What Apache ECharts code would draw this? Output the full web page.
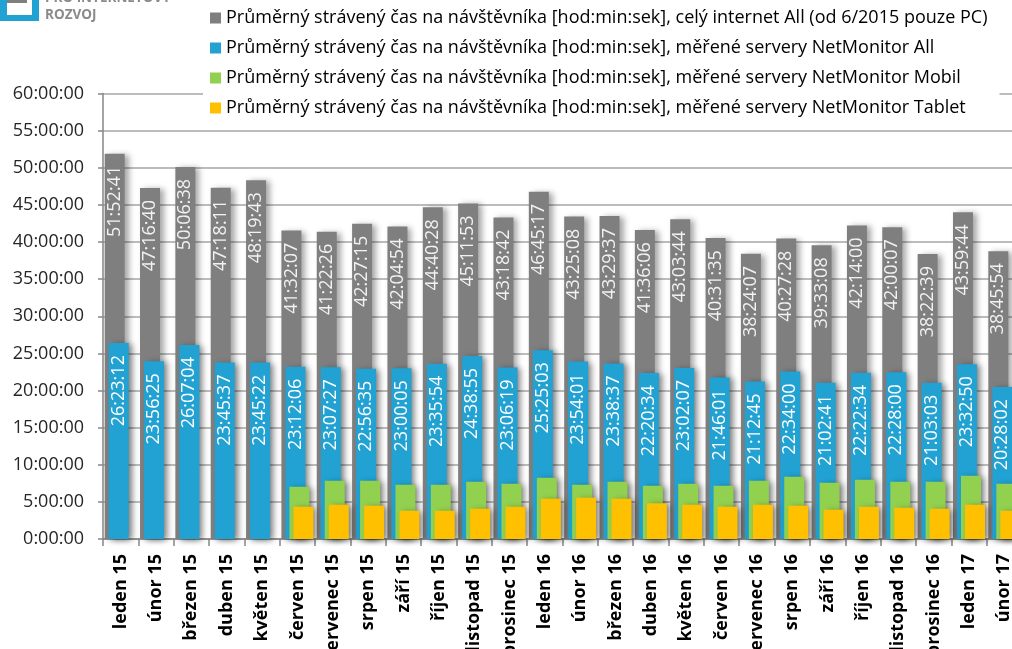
<!DOCTYPE html>
<html>
<head>
<meta charset="utf-8">
<script src="https://cdn.jsdelivr.net/npm/echarts@6/dist/echarts.min.js"></script>
<style>
html,body{margin:0;padding:0;background:#fff;}
#chart{width:1012px;height:649px;}
</style>
</head>
<body>
<div id="chart"></div>
<script>
const categories = ["leden 15","únor 15","březen 15","duben 15","květen 15","červen 15","červenec 15","srpen 15","září 15","říjen 15","listopad 15","prosinec 15","leden 16","únor 16","březen 16","duben 16","květen 16","červen 16","červenec 16","srpen 16","září 16","říjen 16","listopad 16","prosinec 16","leden 17","únor 17"];

const seriesNames = [
  "Průměrný strávený čas na návštěvníka [hod:min:sek], celý internet All (od 6/2015 pouze PC)",
  "Průměrný strávený čas na návštěvníka [hod:min:sek], měřené servery NetMonitor All",
  "Průměrný strávený čas na návštěvníka [hod:min:sek], měřené servery NetMonitor Mobil",
  "Průměrný strávený čas na návštěvníka [hod:min:sek], měřené servery NetMonitor Tablet"
];

// celý internet All (labels shown on chart)
const internetAll = ["51:52:41","47:16:40","50:06:38","47:18:11","48:19:43","41:32:07","41:22:26","42:27:15","42:04:54","44:40:28","45:11:53","43:18:42","46:45:17","43:25:08","43:29:37","41:36:06","43:03:44","40:31:35","38:24:07","40:27:28","39:33:08","42:14:00","42:00:07","38:22:39","43:59:44","38:45:54"];

// NetMonitor All (labels shown on chart)
const netMonitorAll = ["26:23:12","23:56:25","26:07:04","23:45:37","23:45:22","23:12:06","23:07:27","22:56:35","23:00:05","23:35:54","24:38:55","23:06:19","25:25:03","23:54:01","23:38:37","22:20:34","23:02:07","21:46:01","21:12:45","22:34:00","21:02:41","22:22:34","22:28:00","21:03:03","23:32:50","20:28:02"];

// NetMonitor Mobil (in axis units)
const netMonitorMobil = [null,null,null,null,null,7.05,7.86,7.86,7.32,7.32,7.72,7.45,8.26,7.32,7.72,7.18,7.45,7.18,7.86,8.40,7.59,7.99,7.72,7.72,8.53,7.45];

// NetMonitor Tablet (in axis units)
const netMonitorTablet = [null,null,null,null,null,4.35,4.62,4.49,3.81,3.81,4.08,4.35,5.43,5.57,5.43,4.81,4.62,4.35,4.62,4.49,3.95,4.35,4.22,4.08,4.62,3.81];

const yTicks = [0,5,10,15,20,25,30,35,40,45,50,55,60];

function parseTime(s){
  const p = s.split(':').map(Number);
  return p[0] + p[1]/60 + p[2]/3600;
}

const colors = ['#7f7f7f','#21a2d3','#92d050','#ffc000'];
const shadow = {shadowColor:'rgba(0,0,0,0.35)', shadowBlur:6, shadowOffsetX:4, shadowOffsetY:1};

function barLabel(strings, color){
  return {
    show:true, position:'insideTop', rotate:90, align:'right', verticalAlign:'middle',
    distance:12, color:color, fontFamily:'Open Sans', fontSize:18,
    formatter: p => strings[p.dataIndex]
  };
}

const chart = echarts.init(document.getElementById('chart'), null, {renderer:'canvas'});
chart.setOption({
  animation:false,
  color:colors,
  grid:{left:103, right:-10, top:93.5, bottom:110, containLabel:false, outerBoundsMode:'none'},
  legend:{
    orient:'vertical', left:203, top:3, itemWidth:11, itemHeight:11, itemGap:10,
    icon:'rect', backgroundColor:'#fff', padding:[5,12,10,7], z:10,
    textStyle:{fontFamily:'Open Sans', fontSize:18, color:'#000', lineHeight:20},
    data:seriesNames
  },
  graphic:[
    {type:'rect', left:0, top:0, shape:{width:39,height:21}, style:{fill:'#21a2d3'}},
    {type:'rect', left:7, top:0, shape:{width:25,height:15}, style:{fill:'#fff'}},
    {type:'rect', left:7, top:0, shape:{width:20,height:3}, style:{fill:'#7f7f7f'}},
    {type:'text', left:45, top:-9, style:{text:'PRO INTERNETOVÝ', fill:'#8a8a8a', font:'bold 13.5px "Open Sans"'}},
    {type:'text', left:45, top:8, style:{text:'ROZVOJ', fill:'#8a8a8a', font:'bold 13.5px "Open Sans"'}}
  ],
  xAxis:{
    type:'category', data:categories, boundaryGap:true,
    axisLine:{lineStyle:{color:'#868686', width:1.5}},
    axisTick:{show:true, alignWithLabel:false, length:7, lineStyle:{color:'#868686', width:1.5}},
    axisLabel:{rotate:90, interval:0, margin:15, color:'#000', fontFamily:'Open Sans', fontWeight:'bold', fontSize:18}
  },
  yAxis:{
    type:'value', min:0, max:60, interval:5,
    axisLine:{show:true, lineStyle:{color:'#868686', width:1.5}},
    axisTick:{show:true, length:5, lineStyle:{color:'#868686', width:1.5}},
    splitLine:{show:true, lineStyle:{color:'#a6a6a6', width:1.5}},
    axisLabel:{margin:19, color:'#262626', fontFamily:'Open Sans', fontSize:18,
      formatter: v => (yTicks.indexOf(v) >= 0 ? v + ':00:00' : '')}
  },
  series:[
    {name:seriesNames[0], type:'bar', barWidth:20, barGap:'-80%', data:internetAll.map(parseTime),
     itemStyle:Object.assign({color:colors[0]}, shadow), label:barLabel(internetAll,'#f2f2f2')},
    {name:seriesNames[1], type:'bar', barWidth:20, barGap:'-80%', data:netMonitorAll.map(parseTime),
     itemStyle:Object.assign({color:colors[1]}, shadow), label:barLabel(netMonitorAll,'#ffffff')},
    {name:seriesNames[2], type:'bar', barWidth:20, barGap:'-80%', data:netMonitorMobil,
     itemStyle:Object.assign({color:colors[2]}, shadow)},
    {name:seriesNames[3], type:'bar', barWidth:20, barGap:'-80%', data:netMonitorTablet,
     itemStyle:Object.assign({color:colors[3]}, shadow)}
  ]
});
</script>
</body>
</html>
